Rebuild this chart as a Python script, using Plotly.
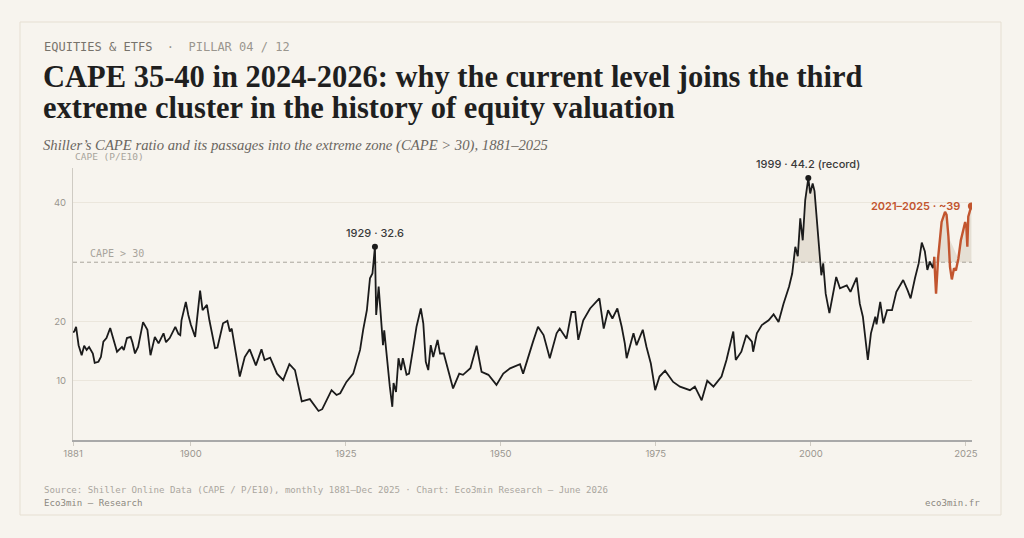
import plotly.graph_objects as go

# Shiller CAPE (decimal years)
years = [
    1881.0, 1881.2, 1881.5, 1881.9, 1882.4, 1882.8, 1883.2, 1883.6, 1884.2, 1884.5,
    1885.1, 1885.5, 1885.9, 1886.4, 1887.0, 1887.4, 1888.1, 1888.9, 1889.2, 1889.7,
    1890.3, 1890.6, 1891.0, 1891.5, 1892.3, 1893.0, 1893.5, 1894.2, 1894.8, 1895.6,
    1896.0, 1896.6, 1897.5, 1898.0, 1898.3, 1898.5, 1899.2, 1899.6, 1900.0, 1900.7,
    1901.5, 1901.9, 1902.6, 1903.0, 1903.9, 1904.3, 1905.2, 1905.9, 1906.3, 1906.6,
    1907.9, 1908.7, 1909.5, 1910.5, 1911.4, 1911.9, 1912.8, 1913.9, 1914.9, 1915.9,
    1916.8, 1917.9, 1919.2, 1920.6, 1921.2, 1922.7, 1923.5, 1924.1, 1925.1, 1926.2,
    1927.3, 1927.8, 1928.4, 1928.9, 1929.3, 1929.7, 1929.9, 1930.3, 1930.6, 1931.0,
    1931.2, 1931.7, 1932.1, 1932.5, 1932.7, 1933.1, 1933.5, 1933.9, 1934.2, 1934.8,
    1935.2, 1935.9, 1936.4, 1937.1, 1937.5, 1937.9, 1938.3, 1938.7, 1939.1, 1939.8,
    1940.2, 1940.8, 1941.4, 1942.3, 1943.3, 1943.9, 1945.1, 1946.1, 1946.9, 1948.0,
    1949.3, 1950.4, 1951.5, 1953.1, 1953.6, 1954.4, 1955.2, 1956.0, 1956.9, 1957.9,
    1959.0, 1959.5, 1960.6, 1961.4, 1962.0, 1962.5, 1963.3, 1964.4, 1965.9, 1966.6,
    1967.3, 1968.0, 1968.8, 1969.5, 1970.0, 1970.3, 1971.4, 1971.9, 1972.9, 1973.5,
    1974.2, 1974.9, 1975.6, 1976.5, 1977.8, 1978.9, 1980.5, 1981.3, 1982.4, 1983.3,
    1984.3, 1985.6, 1986.4, 1987.5, 1987.9, 1988.8, 1989.6, 1990.5, 1990.7, 1991.3,
    1992.1, 1993.2, 1994.0, 1994.8, 1995.6, 1996.5, 1997.0, 1997.5, 1997.9, 1998.3,
    1998.7, 1999.1, 1999.6, 1999.9, 2000.3, 2000.6, 2001.0, 2001.4, 2001.7, 2002.0,
    2002.4, 2003.0, 2003.6, 2004.1, 2004.7, 2005.8, 2006.4, 2007.4, 2007.9, 2008.4,
    2009.2, 2009.7, 2010.4, 2010.6, 2011.2, 2011.7, 2012.3, 2013.1, 2013.8, 2014.9,
    2015.6, 2016.1, 2016.8, 2017.4, 2017.9, 2018.4, 2018.8, 2019.2, 2019.7, 2019.9,
    2020.2, 2020.55, 2021.1, 2021.65, 2021.9, 2022.2, 2022.45, 2022.75, 2023.1, 2023.4,
    2023.8, 2024.2, 2024.6, 2024.9, 2025.1, 2025.25, 2025.4, 2025.9,
]
cape = [
    18.2, 18.3, 19.1, 16.0, 14.3, 15.9, 15.2, 15.7, 14.6, 13.0,
    13.2, 14.0, 16.6, 17.2, 18.9, 17.4, 14.9, 15.7, 15.2, 17.2,
    17.4, 16.4, 14.6, 15.7, 19.9, 18.6, 14.3, 17.4, 16.3, 18.0,
    16.5, 17.2, 19.1, 17.9, 17.7, 20.2, 23.3, 21.1, 19.5, 17.4,
    25.2, 21.9, 22.8, 20.2, 15.5, 15.6, 19.7, 20.1, 18.3, 18.8,
    10.7, 14.0, 15.3, 12.6, 15.3, 13.5, 13.9, 11.2, 10.1, 12.8,
    11.8, 6.5, 6.9, 4.9, 5.2, 8.4, 7.6, 7.9, 9.8, 11.2,
    15.2, 18.6, 21.9, 27.3, 28.1, 32.6, 21.1, 25.9, 21.1, 16.0,
    18.5, 12.9, 9.0, 5.6, 9.6, 8.1, 13.8, 11.8, 13.8, 11.0,
    11.2, 15.7, 19.1, 22.2, 19.7, 13.2, 11.8, 16.0, 14.0, 16.9,
    14.6, 14.6, 12.4, 8.7, 11.2, 11.0, 12.1, 15.9, 11.5, 11.0,
    9.3, 11.2, 12.1, 12.8, 11.2, 14.0, 16.6, 19.1, 17.7, 13.8,
    18.0, 18.8, 17.1, 21.6, 21.6, 16.9, 20.2, 22.2, 23.9, 18.8,
    21.9, 20.5, 22.2, 19.1, 16.3, 13.8, 18.0, 16.0, 18.6, 15.7,
    12.9, 8.4, 10.7, 11.7, 9.8, 9.0, 8.4, 9.0, 6.7, 10.0,
    9.0, 10.7, 13.5, 18.3, 13.5, 14.9, 17.7, 16.6, 14.9, 18.0,
    19.4, 20.2, 21.2, 19.9, 23.0, 25.9, 28.1, 32.6, 31.0, 37.4,
    33.7, 40.5, 44.2, 41.6, 43.3, 42.0, 37.1, 32.3, 27.8, 29.8,
    24.7, 21.4, 24.7, 27.5, 25.6, 26.1, 25.0, 27.4, 23.0, 20.8,
    13.5, 18.0, 20.8, 19.5, 23.3, 19.7, 21.9, 21.9, 25.0, 27.0,
    25.3, 23.9, 27.3, 29.8, 33.3, 31.8, 28.7, 30.1, 29.0, 30.9,
    24.7, 30.9, 36.8, 38.5, 38.0, 34.3, 29.2, 27.1, 29.0, 28.6,
    30.6, 33.7, 35.4, 36.8, 35.8, 32.6, 37.7, 39.5,
]

x_ticks = [1881, 1900, 1925, 1950, 1975, 2000, 2025]
y_ticks = [10, 20, 40]
THRESHOLD = 30
HIGHLIGHT_FROM = 2019.9
shaded_windows = [(1996, 2003), (2019.5, 2026)]

BG = "#f7f4ee"
INK = "#1b1b1b"
ORANGE = "#c2552f"
MONO = "DejaVu Sans Mono, monospace"
SANS = "Inter, Roboto, sans-serif"
SERIF = "Liberation Serif, serif"

# plot area in pixels: x 73..972, y 168..440
L, R, T, B = 73, 52, 168, 98
W, H = 1024, 538
PW, PH = W - L - R, H - T - B


def px(x):
    return (x - L) / PW


def py(y):
    return (H - B - y) / PH


def cluster_polygon(lo, hi):
    xs, ys = [], []
    for i, (x, v) in enumerate(zip(years, cape)):
        if lo <= x <= hi and v > THRESHOLD:
            if not xs:
                x0, v0 = years[i - 1], cape[i - 1]
                xs.append(x0 + (x - x0) * (THRESHOLD - v0) / (v - v0))
                ys.append(THRESHOLD)
            xs.append(x)
            ys.append(v)
            last = i
    if last + 1 < len(years) and years[last + 1] <= hi:
        x1, v1 = years[last + 1], cape[last + 1]
        xe = years[last] + (x1 - years[last]) * (cape[last] - THRESHOLD) / (cape[last] - v1)
    else:
        xe = years[last]
    xs.append(xe)
    ys.append(THRESHOLD)
    return xs, ys


fig = go.Figure()

for lo, hi in shaded_windows:
    fx, fy = cluster_polygon(lo, hi)
    fig.add_trace(go.Scatter(x=fx, y=fy, fill="toself", mode="lines",
                             fillcolor="rgba(176,164,140,0.26)", line=dict(width=0),
                             hoverinfo="skip"))

bx = [x for x in years if x <= HIGHLIGHT_FROM]
by = cape[:len(bx)]
ox = [x for x in years if x >= HIGHLIGHT_FROM]
oy = cape[len(years) - len(ox):]

fig.add_trace(go.Scatter(x=bx, y=by, mode="lines", line=dict(color=INK, width=1.8)))
fig.add_trace(go.Scatter(x=ox, y=oy, mode="lines", line=dict(color=ORANGE, width=2.4)))

# peaks
i29 = max((i for i, x in enumerate(years) if 1925 <= x <= 1935), key=lambda i: cape[i])
i99 = max(range(len(cape)), key=lambda i: cape[i])
fig.add_trace(go.Scatter(x=[years[i29], years[i99]], y=[cape[i29], cape[i99]], mode="markers",
                         marker=dict(color=INK, size=6)))
fig.add_trace(go.Scatter(x=[ox[-1]], y=[oy[-1]], mode="markers",
                         marker=dict(color=ORANGE, size=7)))

ann = []
ann.append(dict(x=years[i29], y=cape[i29], xref="x", yref="y", text="1929 · 32.6",
                showarrow=False, yanchor="bottom", yshift=5,
                font=dict(family=SANS, size=11, color="#3a3a3a", weight=500)))
ann.append(dict(x=years[i99], y=cape[i99], xref="x", yref="y", text="1999 · 44.2 (record)",
                showarrow=False, yanchor="bottom", yshift=5,
                font=dict(family=SANS, size=11, color="#3a3a3a", weight=500)))
ann.append(dict(x=ox[-1], y=oy[-1], xref="x", yref="y", text="2021–2025 · ~39",
                showarrow=False, xanchor="right", yanchor="middle", xshift=-9,
                font=dict(family=SANS, size=11, color=ORANGE, weight=600)))
ann.append(dict(x=px(88), y=THRESHOLD, xref="paper", yref="y", text="CAPE > 30",
                showarrow=False, xanchor="left", yanchor="bottom", yshift=1,
                font=dict(family=MONO, size=10, color="#a8a49c")))
ann.append(dict(x=px(73), y=py(157), xref="paper", yref="paper", text="CAPE (P/E10)",
                showarrow=False, xanchor="left", yanchor="middle",
                font=dict(family=MONO, size=9.5, color="#a8a49c")))

# header
ann.append(dict(x=px(42), y=py(47), xref="paper", yref="paper",
                text="<span style='color:#77736b'>EQUITIES &amp; ETFS</span>"
                     "\u00a0\u00a0·\u00a0\u00a0"
                     "<span style='color:#9a968e'>PILLAR 04 / 12</span>",
                showarrow=False, xanchor="left", yanchor="middle",
                font=dict(family=MONO, size=12, color="#9a968e")))
ann.append(dict(x=px(41), y=py(77), xref="paper", yref="paper",
                text="CAPE 35-40 in 2024-2026: why the current level joins the third",
                showarrow=False, xanchor="left", yanchor="middle",
                font=dict(family=SERIF, size=30.5, color="#1f1f1f", weight="bold")))
ann.append(dict(x=px(41), y=py(108), xref="paper", yref="paper",
                text="extreme cluster in the history of equity valuation",
                showarrow=False, xanchor="left", yanchor="middle",
                font=dict(family=SERIF, size=30.5, color="#1f1f1f", weight="bold")))
ann.append(dict(x=px(41), y=py(145), xref="paper", yref="paper",
                text="Shiller’s CAPE ratio and its passages into the extreme zone (CAPE > 30), 1881–2025",
                showarrow=False, xanchor="left", yanchor="middle",
                font=dict(family=SERIF, size=14.7, color="#6a665f", style="italic")))

# footer
ann.append(dict(x=px(42), y=py(490), xref="paper", yref="paper",
                text="Source: Shiller Online Data (CAPE / P/E10), monthly 1881–Dec 2025 · Chart: Eco3min Research — June 2026",
                showarrow=False, xanchor="left", yanchor="middle",
                font=dict(family=MONO, size=9.1, color="#aaa69e")))
ann.append(dict(x=px(42), y=py(503), xref="paper", yref="paper", text="Eco3min — Research",
                showarrow=False, xanchor="left", yanchor="middle",
                font=dict(family=MONO, size=9.1, color="#8c887f")))
ann.append(dict(x=px(982), y=py(503), xref="paper", yref="paper", text="eco3min.fr",
                showarrow=False, xanchor="right", yanchor="middle",
                font=dict(family=MONO, size=9.1, color="#8c887f")))

shapes = [
    dict(type="rect", xref="paper", yref="paper", x0=px(20), x1=px(1001), y0=py(515), y1=py(22),
         line=dict(color="#e6dfd2", width=1), fillcolor="rgba(0,0,0,0)", layer="below"),
    dict(type="line", xref="paper", yref="y", x0=0, x1=1, y0=THRESHOLD, y1=THRESHOLD,
         line=dict(color="#a9a59d", width=1, dash="4px,3px"), layer="below"),
]

fig.update_layout(
    width=W, height=H,
    margin=dict(l=L, r=R, t=T, b=B),
    paper_bgcolor=BG, plot_bgcolor=BG,
    showlegend=False,
    annotations=ann, shapes=shapes,
    xaxis=dict(range=[1881, 2026], tickvals=x_ticks, showgrid=False, zeroline=False,
               showline=True, linecolor="#a9a9a9", linewidth=1.5,
               ticks="outside", ticklen=4, tickcolor="#cfcbc3", tickwidth=1,
               tickfont=dict(family=SANS, size=9.5, color="#9a968e")),
    yaxis=dict(range=[0, 45.9], tickvals=y_ticks, showgrid=True, gridcolor="#ebe6dc", gridwidth=1,
               zeroline=False, showline=True, linecolor="#cfcbc3", linewidth=1,
               ticks="", ticklabelstandoff=4,
               tickfont=dict(family=SANS, size=9.5, color="#9a968e")),
)

fig.write_html("out.html", config={"displayModeBar": False},
               post_script="document.body.style.margin='0';document.body.style.background='%s';" % BG)
